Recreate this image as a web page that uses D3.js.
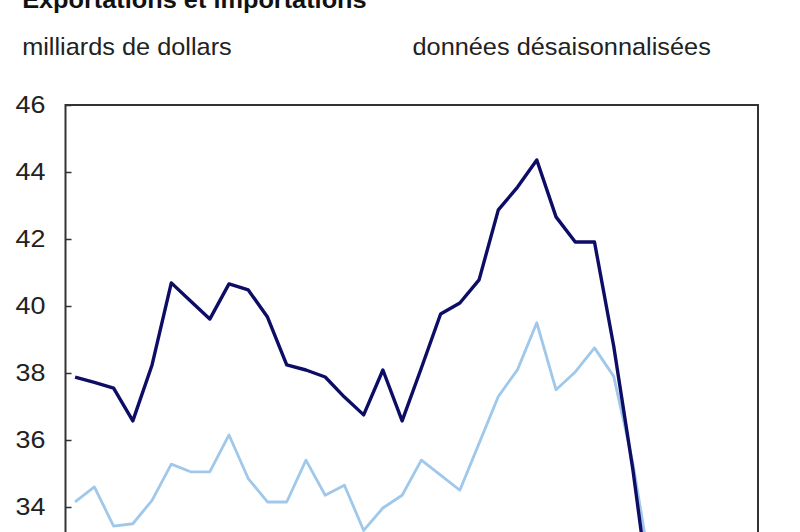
<!DOCTYPE html>
<html>
<head>
<meta charset="utf-8">
<script src="https://cdn.jsdelivr.net/npm/d3@7"></script>
<style>
  body { margin: 0; background: #fff; }
  svg { display: block; }
  text { font-family: 'Liberation Sans', Arial, sans-serif; fill: #222; }
</style>
</head>
<body>
<svg id="chart" width="800" height="532"></svg>
<script>
// months on the x axis (no labels visible in the crop)
const months = d3.timeMonths(new Date(2006, 6, 1), new Date(2009, 6, 1))

// milliards de dollars
const exportations = [37.88, 37.72, 37.55, 36.57, 38.24, 40.69, 40.15, 39.61, 40.66, 40.48,
  39.67, 38.24, 38.09, 37.88, 37.28, 36.75, 38.09, 36.57, 38.15, 39.76,
  40.09, 40.78, 42.87, 43.55, 44.36, 42.66, 41.91, 41.91, 38.8, 35.1, 30.8]
const importations = [34.15, 34.6, 33.43, 33.5, 34.2, 35.28, 35.05, 35.05, 36.15, 34.85,
  34.15, 34.15, 35.4, 34.35, 34.65, 33.3, 33.97, 34.35, 35.4, 34.95,
  34.5, 35.9, 37.3, 38.1, 39.5, 37.5, 38.03, 38.75, 37.9, 35.3, 31.85]

// only the ticks that show inside the crop
const yTicks = [34, 36, 38, 40, 42, 44, 46]

const colors = { exp: '#0d0d66', imp: '#9fc8ea' }
const frame = { left: 65.5, right: 758, top: 105 }
const unit = 33.5 // px per billion
const stretch = 'scale(1.055,1)'

const svg = d3.select('#chart')

const x = d3.scaleBand().domain(months).range([frame.left, frame.right]).padding(0)
const y = d3.scaleLinear().domain([26, 46]).range([frame.top + 20 * unit, frame.top])

const cx = i => x(months[i]) + x.bandwidth() / 2

const textG = svg.append('g').attr('transform', stretch)

textG.append('text')
  .attr('x', 21).attr('y', 8)
  .style('font-size', '24px').style('font-weight', 'bold').style('fill', '#111')
  .text('Exportations et importations')

textG.append('text')
  .attr('x', 21).attr('y', 55)
  .style('font-size', '24px')
  .text('milliards de dollars')

textG.append('text')
  .attr('x', 391).attr('y', 55)
  .style('font-size', '24px')
  .text('données désaisonnalisées')

// y axis with inward ticks
const yAxis = svg.append('g')
  .attr('transform', `translate(${frame.left},0)`)
  .call(d3.axisLeft(y).tickValues(yTicks).tickSize(-6).tickPadding(20))

yAxis.select('.domain').remove()
yAxis.selectAll('.tick line').attr('stroke', '#333').attr('stroke-width', 1.5)
yAxis.selectAll('.tick text')
  .attr('font-family', null).attr('font-size', null)
  .style('font-size', '24px').style('fill', '#222')
  .attr('transform', 'scale(1.12,1)')
  .attr('dx', 2)

// frame
svg.append('rect')
  .attr('x', frame.left).attr('y', frame.top)
  .attr('width', frame.right - frame.left).attr('height', 20 * unit)
  .attr('fill', 'none').attr('stroke', '#333').attr('stroke-width', 2)

const line = d3.line().x((d, i) => cx(i)).y(d => y(d))

svg.append('path').datum(importations)
  .attr('d', line).attr('fill', 'none')
  .attr('stroke', colors.imp).attr('stroke-width', 2.8).attr('stroke-linejoin', 'round')

svg.append('path').datum(exportations)
  .attr('d', line).attr('fill', 'none')
  .attr('stroke', colors.exp).attr('stroke-width', 3.4).attr('stroke-linejoin', 'round')
</script>
</body>
</html>
